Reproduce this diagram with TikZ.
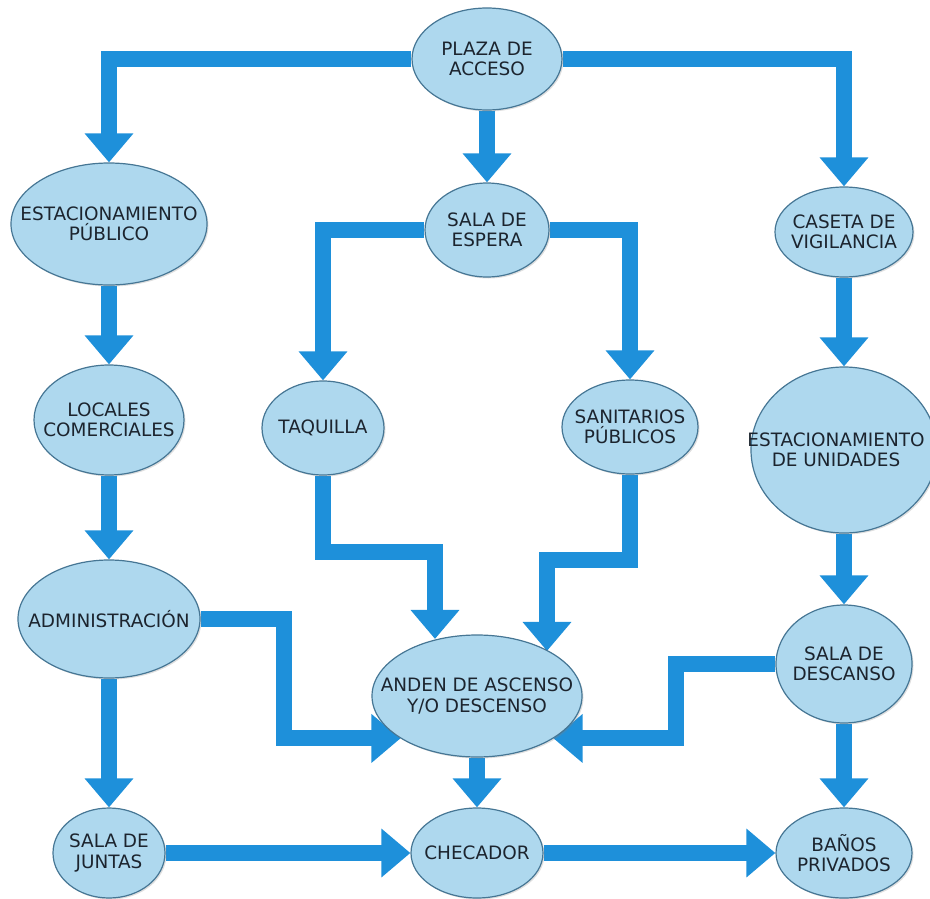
\documentclass[tikz,border=0pt]{standalone}
\usepackage{fontspec}
\setmainfont{DejaVu Sans}
\usetikzlibrary{shapes.geometric,arrows.meta,backgrounds,shadows}

\definecolor{flowblue}{RGB}{30,144,218}
\definecolor{placefill}{RGB}{174,216,238}
\definecolor{placeedge}{RGB}{70,118,148}
\definecolor{placetext}{RGB}{28,36,46}

\tikzset{
  place/.style 2 args={ellipse, draw=placeedge, line width=1.2bp, fill=placefill,
    inner sep=0pt, minimum width=#1, minimum height=#2,
    drop shadow={shadow xshift=1.5bp, shadow yshift=-1.5bp, opacity=0.25}},
  placelabel/.style={align=center, text=placetext, inner sep=0pt,
    font=\fontsize{18.5}{20.5}\selectfont},
  flow/.style={draw=flowblue, line width=16bp, line join=miter,
    -{Triangle[width=47bp,length=29bp]}}
}

\begin{document}
\begin{tikzpicture}[x=1bp,y=-1bp]
\useasboundingbox (0,0) rectangle (930,899);

% places, each with its caption centred inside
\node[place={150bp}{102bp}, label={[name=plaza-t,placelabel]center:PLAZA DE\\ACCESO}] (plaza) at (487,59) {};
\node[place={124bp}{94bp}, label={[name=espera-t,placelabel]center:SALA DE\\ESPERA}] (espera) at (487,230) {};
\node[place={196bp}{122bp}, label={[name=estpub-t,placelabel]center:ESTACIONAMIENTO\\PÚBLICO}] (estpub) at (109,224) {};
\node[place={138bp}{90bp}, label={[name=caseta-t,placelabel]center:CASETA DE\\VIGILANCIA}] (caseta) at (844,232) {};
\node[place={150bp}{110bp}, label={[name=locales-t,placelabel]center:LOCALES\\COMERCIALES}] (locales) at (109,420) {};
\node[place={122bp}{94bp}, label={[name=taq-t,placelabel]center:TAQUILLA}] (taq) at (323,428) {};
\node[place={136bp}{94bp}, label={[name=sanit-t,placelabel]center:SANITARIOS\\PÚBLICOS}] (sanit) at (630,427) {};
\node[place={186bp}{166bp}, label={[name=estuni-t,placelabel,xshift=-8bp]center:ESTACIONAMIENTO\\DE UNIDADES}] (estuni) at (844,450) {};
\node[place={182bp}{118bp}, label={[name=admin-t,placelabel]center:ADMINISTRACIÓN}] (admin) at (109,619) {};
\node[place={210bp}{122bp}, label={[name=anden-t,placelabel]center:ANDEN DE ASCENSO\\Y/O DESCENSO}] (anden) at (477,696) {};
\node[place={136bp}{118bp}, label={[name=descanso-t,placelabel]center:SALA DE\\DESCANSO}] (descanso) at (844,664) {};
\node[place={112bp}{90bp}, label={[name=juntas-t,placelabel]center:SALA DE\\JUNTAS}] (juntas) at (109,853) {};
\node[place={132bp}{90bp}, label={[name=checador-t,placelabel]center:CHECADOR}] (checador) at (477,853) {};
\node[place={136bp}{90bp}, label={[name=banos-t,placelabel]center:BAÑOS\\PRIVADOS}] (banos) at (844,853) {};

% bend points of the routed connectors
\coordinate (tq) at (435,552);
\coordinate (sn) at (547,560);
\coordinate (ad) at (284,700);
\coordinate (ds) at (676,700);

% connectors
\begin{scope}[on background layer]
\draw[flow] (plaza.west) -| (estpub.north);
\draw[flow] (plaza.east) -| (caseta.north);
\draw[flow] (plaza.south) -- (espera.north);
\draw[flow] (espera.west) -| (taq.north);
\draw[flow] (espera.east) -| (sanit.north);
\draw[flow] (estpub.south) -- (locales.north);
\draw[flow] (caseta.south) -- (estuni.north);
\draw[flow] (locales.south) -- (admin.north);
\draw[flow] (taq.south) |- (tq) -- (tq |- anden.125);
\draw[flow] (sanit.south) |- (sn) -- (sn |- anden.32);
\draw[flow] (estuni.south) -- (descanso.north);
\draw[flow] (admin.east) -| (ad) |- (anden.209);
\draw[flow] (descanso.west) -| (ds) |- (anden.331);
\draw[flow] (admin.south) -- (juntas.north);
\draw[flow] (anden.south) -- (checador.north);
\draw[flow] (juntas.east) -- (checador.west);
\draw[flow] (checador.east) -- (banos.west);
\draw[flow] (descanso.south) -- (banos.north);
\end{scope}
\end{tikzpicture}
\end{document}
